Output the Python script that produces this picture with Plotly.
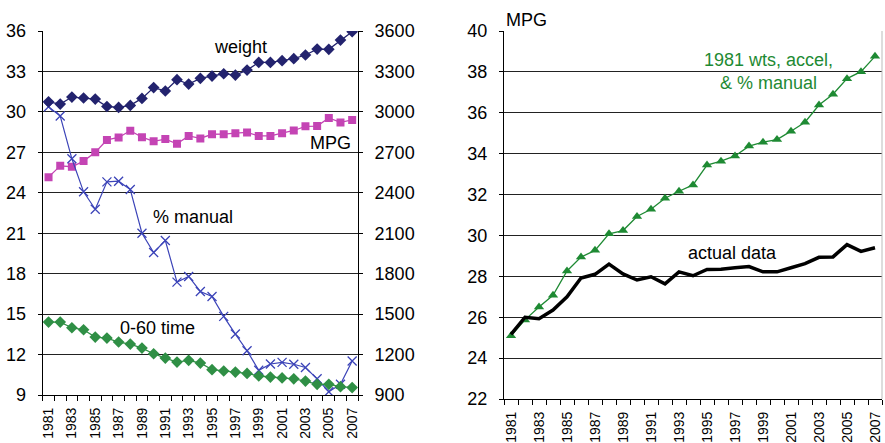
import plotly.graph_objects as go

years = list(range(1981, 2008))
weight = [3075, 3058, 3110, 3103, 3095, 3040, 3033, 3048, 3100, 3180, 3155, 3239, 3206, 3249,
          3266, 3283, 3273, 3310, 3367, 3367, 3380, 3395, 3422, 3466, 3464, 3533, 3595]
mpg = [25.16, 26.0, 25.93, 26.35, 27.0, 27.92, 28.1, 28.6, 28.12, 27.82, 27.98, 27.63, 28.22, 28.03,
       28.34, 28.35, 28.42, 28.48, 28.22, 28.22, 28.42, 28.62, 28.93, 28.95, 29.55, 29.22, 29.4]
pct_manual = [30.38, 29.69, 26.52, 24.07, 22.78, 24.81, 24.86, 24.24, 21.0, 19.57, 20.46, 17.37, 17.79,
              16.68, 16.31, 14.83, 13.52, 12.28, 10.83, 11.3, 11.42, 11.28, 11.04, 10.2, 9.24, 9.8, 11.52]
accel_0_60 = [14.41, 14.41, 13.99, 13.84, 13.3, 13.22, 12.93, 12.78, 12.48, 12.06, 11.74, 11.44, 11.57,
              11.37, 10.88, 10.78, 10.7, 10.6, 10.41, 10.33, 10.27, 10.2, 10.03, 9.79, 9.79, 9.62, 9.55]
mpg_1981_adj = [25.09, 25.87, 26.5, 27.07, 28.26, 28.94, 29.27, 30.08, 30.24, 30.93, 31.28, 31.82, 32.16,
                32.47, 33.44, 33.63, 33.89, 34.37, 34.56, 34.69, 35.1, 35.54, 36.38, 36.91, 37.67, 38.01, 38.76]
label_years = list(range(1981, 2008, 2))

FONT = "Liberation Sans, Arial, sans-serif"
navy = "#23236e"
magenta = "#c444b4"
blue = "#3c44b8"
green = "#2f8f45"
tgreen = "#1e8a33"

fig = go.Figure()

fig.add_trace(go.Scatter(x=years, y=weight, yaxis="y2", xaxis="x", mode="lines+markers",
                         line=dict(color=navy, width=1.3),
                         marker=dict(symbol="diamond", size=9, color=navy)))
fig.add_trace(go.Scatter(x=years, y=mpg, xaxis="x", yaxis="y", mode="lines+markers",
                         line=dict(color=magenta, width=1.3),
                         marker=dict(symbol="square", size=8, color=magenta)))
fig.add_trace(go.Scatter(x=years, y=pct_manual, xaxis="x", yaxis="y", mode="lines+markers",
                         line=dict(color=blue, width=1.2),
                         marker=dict(symbol="x-thin", size=9, color=blue,
                                     line=dict(color=blue, width=1.3))))
fig.add_trace(go.Scatter(x=years, y=accel_0_60, xaxis="x", yaxis="y", mode="lines+markers",
                         line=dict(color=green, width=1.3),
                         marker=dict(symbol="diamond", size=9, color=green)))

fig.add_trace(go.Scatter(x=years, y=mpg_1981_adj, xaxis="x2", yaxis="y3", mode="lines+markers",
                         line=dict(color=tgreen, width=1.3),
                         marker=dict(symbol="triangle-up", size=9, color=tgreen)))
fig.add_trace(go.Scatter(x=years, y=mpg, xaxis="x2", yaxis="y3", mode="lines",
                         line=dict(color="black", width=3.5)))

xcommon = dict(range=[1980.5, 2007.5], tickmode="array", tickvals=label_years,
               ticktext=[str(y) for y in label_years], tickangle=-90, ticks="",
               showgrid=False, showline=True, linecolor="black", linewidth=1,
               tickfont=dict(family=FONT, size=14, color="black"), automargin=False,
               zeroline=False, ticklabelstandoff=6,
               minor=dict(tick0=1980.5, dtick=1, ticks="outside", ticklen=5,
                          tickcolor="black", tickwidth=1, showgrid=False))
ycommon = dict(showgrid=True, gridcolor="#222222", gridwidth=1, showline=True, linecolor="black",
               linewidth=1, ticks="outside", ticklen=4, tickcolor="black",
               tickfont=dict(family=FONT, size=18, color="black"), automargin=False,
               zeroline=False, ticklabelstandoff=8)

fig.update_layout(
    width=885, height=443,
    margin=dict(l=0, r=0, t=0, b=0),
    paper_bgcolor="white", plot_bgcolor="white",
    showlegend=False,
    font=dict(family=FONT, size=18, color="black"),
    xaxis=dict(domain=[42.7 / 885, 358 / 885], anchor="y", **xcommon),
    yaxis=dict(domain=[1 - 395 / 443, 1 - 31 / 443], range=[9, 36], dtick=3, tick0=9,
               anchor="x", **ycommon),
    yaxis2=dict(overlaying="y", side="right", anchor="x", range=[900, 3600], dtick=300, tick0=900,
                showgrid=False, showline=True, linecolor="black", linewidth=1, ticks="outside",
                ticklen=4, tickcolor="black", tickfont=dict(family=FONT, size=18, color="black"),
                automargin=False, zeroline=False, ticklabelstandoff=8),
    xaxis2=dict(domain=[504 / 885, 882 / 885], anchor="y3", **xcommon),
    yaxis3=dict(domain=[1 - 399 / 443, 1 - 31 / 443], range=[22, 40], dtick=2, tick0=22,
                anchor="x2", **ycommon),
)

fig.add_shape(type="line", xref="x2 domain", yref="y3 domain", x0=1, x1=1, y0=0, y1=1,
              line=dict(color="#bbbbbb", width=1))

ann_font = dict(family=FONT, size=18, color="black")
fig.add_annotation(x=1997.4, y=34.8, xref="x", yref="y", text="weight", showarrow=False, font=ann_font)
fig.add_annotation(x=2007.1, y=27.7, xref="x", yref="y", text="MPG", showarrow=False,
                   xanchor="right", font=ann_font)
fig.add_annotation(x=1993.4, y=22.2, xref="x", yref="y", text="% manual", showarrow=False, font=ann_font)
fig.add_annotation(x=1990.3, y=13.97, xref="x", yref="y", text="0-60 time", showarrow=False, font=ann_font)
fig.add_annotation(x=0, y=1 - 20 / 443, xref="x2 domain", yref="paper", text="MPG", showarrow=False,
                   xanchor="left", yanchor="middle", font=ann_font)
fig.add_annotation(x=1999.4, y=38.02, xref="x2", yref="y3", text="1981 wts, accel,<br>& % manual",
                   showarrow=False, align="center", font=dict(family=FONT, size=18, color=tgreen))
fig.add_annotation(x=1996.8, y=29.14, xref="x2", yref="y3", text="actual data", showarrow=False,
                   font=ann_font)

fig.write_html("out.html")
